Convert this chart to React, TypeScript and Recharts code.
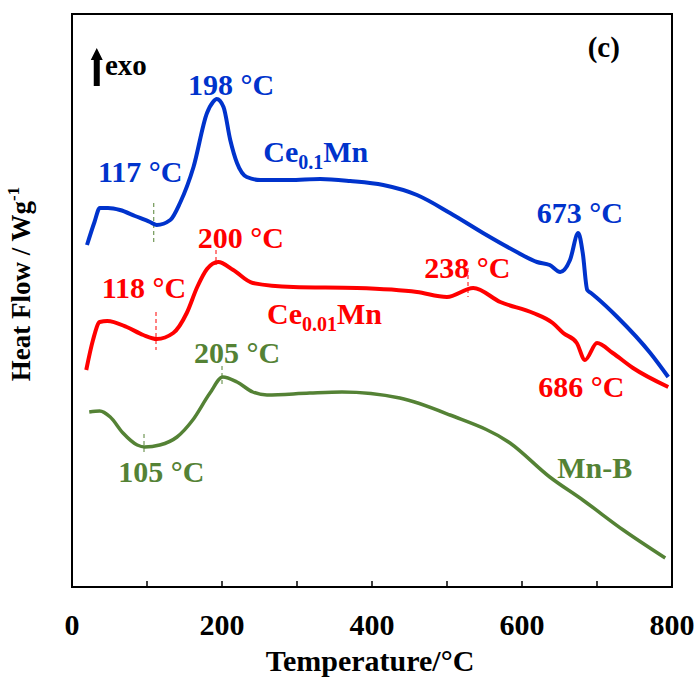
import {
  LineChart,
  Line,
  XAxis,
  YAxis,
  ReferenceArea,
  ReferenceLine,
  ReferenceDot,
} from "recharts";

// temperature (°C) and heat flow (arbitrary units, offset per sample)
const tempCe01 = [20, 30, 37, 48, 64, 84, 104, 113, 131, 144, 162, 180, 188, 193, 202, 211, 220, 233, 251, 290, 331, 371, 415, 460, 504, 548, 593, 620, 637, 651, 664, 675, 681, 687, 692, 700, 727, 771, 795];
const hfCe01 = [34.2, 36.5, 37.9, 37.9, 37.7, 37.1, 36.5, 36.2, 36.7, 38.4, 42.0, 47.4, 48.5, 48.8, 48.0, 44.7, 42.4, 41.0, 40.7, 40.7, 40.8, 40.6, 40.2, 39.2, 37.4, 35.4, 33.5, 32.5, 32.2, 31.5, 32.7, 35.4, 33.4, 29.7, 29.4, 28.9, 27.0, 23.4, 21.0];

const tempCe001 = [19, 28, 37, 47, 73, 95, 113, 135, 153, 167, 180, 195, 215, 241, 295, 380, 460, 500, 535, 571, 615, 641, 655, 673, 684, 700, 721, 748, 795];
const hfCe001 = [21.7, 24.7, 26.5, 26.6, 26.0, 25.2, 24.8, 25.4, 27.4, 30.0, 31.8, 32.5, 31.7, 30.4, 30.0, 29.9, 29.5, 29.0, 29.9, 28.5, 27.4, 26.4, 25.4, 24.4, 22.7, 24.4, 23.4, 21.9, 20.0];

const tempMnB = [23, 37, 51, 68, 87, 97, 117, 140, 161, 184, 201, 220, 241, 260, 317, 360, 437, 504, 584, 637, 681, 735, 791];
const hfMnB = [17.5, 17.6, 17.0, 15.4, 14.2, 14.0, 14.2, 15.0, 16.7, 19.4, 21.0, 20.5, 19.5, 19.2, 19.4, 19.5, 18.9, 17.2, 14.4, 11.0, 8.7, 5.7, 2.9];

const xTicks = [0, 100, 200, 300, 400, 500, 600, 700, 800];
const xLabels = ["0", "", "200", "", "400", "", "600", "", "800"];

// peak annotations: [temperature, heat flow at text baseline, text, colour]
const peakLabels: [number, number, string, string][] = [
  [212, 49.2, "198 °C", "blue"],
  [91, 40.5, "117 °C", "blue"],
  [677, 36.4, "673 °C", "blue"],
  [225, 33.9, "200 °C", "red"],
  [96, 28.9, "118 °C", "red"],
  [527, 30.9, "238 °C", "red"],
  [679, 19.0, "686 °C", "red"],
  [220, 22.4, "205 °C", "green"],
  [119, 10.5, "105 °C", "green"],
];

// dashed peak markers: [temperature, from, to, colour]
const markers: [number, number, number, string][] = [
  [109, 38.4, 34.4, "green"],
  [192, 33.7, 32.2, "red"],
  [112, 27.5, 23.7, "red"],
  [528, 31.9, 29.0, "red"],
  [200, 22.1, 20.2, "green"],
  [96, 15.3, 13.4, "green"],
];

const COLORS: Record<string, string> = {
  blue: "#0033CC",
  red: "#FF0000",
  green: "#548235",
};

const FONT = "'Liberation Serif', 'Times New Roman', serif";
const Y_MAX = 57.3;

const toRows = (t: number[], v: number[]) => t.map((x, i) => ({ t: x, hf: v[i] }));

const TempTick = (props: any) => {
  const { x, y, index } = props;
  return (
    <g>
      <line x1={x} y1={y} x2={x} y2={y - 6} stroke="#000" strokeWidth={1.5} />
      <text
        x={x}
        y={y + 48}
        textAnchor="middle"
        fontFamily={FONT}
        fontWeight="bold"
        fontSize={30}
        fill="#000"
      >
        {xLabels[index]}
      </text>
    </g>
  );
};

const textShape = (content: React.ReactNode, color: string, anchor = "middle", size = 30) =>
  (p: any) => (
    <text
      x={p.cx}
      y={p.cy}
      textAnchor={anchor}
      fontFamily={FONT}
      fontWeight="bold"
      fontSize={size}
      fill={color}
    >
      {content}
    </text>
  );

const arrowShape = (p: any) => {
  const { cx, cy } = p;
  return (
    <path
      d={`M${cx},${cy} L${cx + 6},${cy + 12} L${cx + 3},${cy + 12} L${cx + 3},${cy + 38} L${cx - 3},${cy + 38} L${cx - 3},${cy + 12} L${cx - 6},${cy + 12} Z`}
      fill="#000"
    />
  );
};

export default function App() {
  return (
    <div style={{ position: "absolute", left: 0, top: 0, width: 698, height: 680, background: "#fff" }}>
      <LineChart
        width={698}
        height={680}
        margin={{ top: 14, right: 26, left: 72, bottom: 33 }}
      >
        <XAxis
          dataKey="t"
          type="number"
          domain={[0, 800]}
          ticks={xTicks}
          interval={0}
          tick={<TempTick />}
          tickLine={false}
          tickSize={0}
          tickMargin={0}
          height={60}
          axisLine={{ stroke: "#000", strokeWidth: 2 }}
          allowDataOverflow
        />
        <YAxis
          type="number"
          domain={[0, Y_MAX]}
          width={0}
          tick={false}
          tickLine={false}
          axisLine={{ stroke: "#000", strokeWidth: 2 }}
          allowDataOverflow
        />
        <ReferenceArea
          x1={0}
          x2={800}
          y1={0}
          y2={Y_MAX}
          fill="none"
          stroke="#000"
          strokeWidth={2}
        />
        {markers.map(([t, a, b, c], i) => (
          <ReferenceLine
            key={"m" + i}
            segment={[
              { x: t, y: a },
              { x: t, y: b },
            ]}
            stroke={COLORS[c]}
            strokeWidth={1}
            strokeDasharray="4 3"
          />
        ))}
        <Line
          data={toRows(tempCe01, hfCe01)}
          dataKey="hf"
          type="monotone"
          stroke={COLORS.blue}
          strokeWidth={4}
          dot={false}
          isAnimationActive={false}
        />
        <Line
          data={toRows(tempCe001, hfCe001)}
          dataKey="hf"
          type="monotone"
          stroke={COLORS.red}
          strokeWidth={4}
          dot={false}
          isAnimationActive={false}
        />
        <Line
          data={toRows(tempMnB, hfMnB)}
          dataKey="hf"
          type="monotone"
          stroke={COLORS.green}
          strokeWidth={3.5}
          dot={false}
          isAnimationActive={false}
        />
        {peakLabels.map(([t, v, s, c], i) => (
          <ReferenceDot key={"p" + i} x={t} y={v} r={0} shape={textShape(s, COLORS[c])} />
        ))}
        <ReferenceDot
          x={255}
          y={42.5}
          r={0}
          shape={textShape(
            <>
              <tspan>Ce</tspan>
              <tspan fontSize={20} dy={7}>0.1</tspan>
              <tspan dy={-7}>Mn</tspan>
            </>,
            COLORS.blue,
            "start"
          )}
        />
        <ReferenceDot
          x={260}
          y={26.3}
          r={0}
          shape={textShape(
            <>
              <tspan>Ce</tspan>
              <tspan fontSize={20} dy={7}>0.01</tspan>
              <tspan dy={-7}>Mn</tspan>
            </>,
            COLORS.red,
            "start"
          )}
        />
        <ReferenceDot x={697} y={10.9} r={0} shape={textShape("Mn-B", COLORS.green)} />
        <ReferenceDot x={709} y={53.0} r={0} shape={textShape("(c)", "#000", "middle", 29)} />
        <ReferenceDot x={44} y={51.2} r={0} shape={textShape("exo", "#000", "start", 29)} />
        <ReferenceDot x={33} y={53.9} r={0} shape={arrowShape} />
      </LineChart>
      <div
        style={{
          position: "absolute",
          left: 0,
          top: 644,
          width: 740,
          textAlign: "center",
          fontFamily: FONT,
          fontWeight: "bold",
          fontSize: 30,
          lineHeight: "34px",
          color: "#000",
        }}
      >
        Temperature/°C
      </div>
      <svg
        width={60}
        height={680}
        style={{ position: "absolute", left: 0, top: 0, pointerEvents: "none" }}
      >
        <text
          transform="rotate(-90)"
          x={-284}
          y={30}
          textAnchor="middle"
          fontFamily={FONT}
          fontWeight="bold"
          fontSize={27}
          fill="#000"
        >
          Heat Flow / Wg
          <tspan fontSize={17} dy={-11}>-1</tspan>
        </text>
      </svg>
    </div>
  );
}
